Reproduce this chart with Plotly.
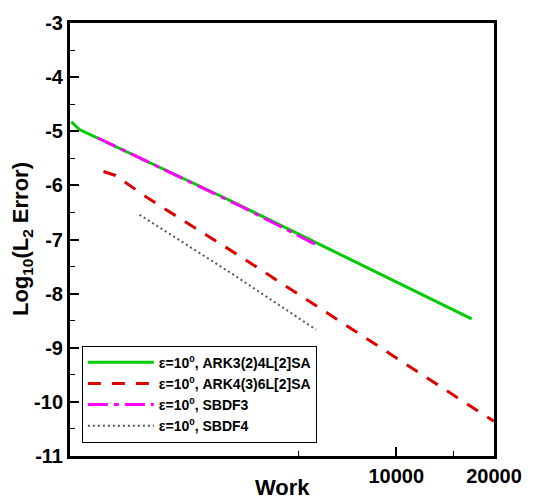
import plotly.graph_objects as go

# ---- data ----
work_ark3 = [997, 1056, 3007, 10550, 17070]
err_ark3 = [-4.824, -4.969, -6.252, -7.842, -8.466]

work_ark4 = [1252, 1365, 1721, 3299, 7801, 20000]
err_ark4 = [-5.744, -5.817, -6.240, -7.310, -8.768, -10.36]

work_sbdf3 = [1200, 3292, 5700]
err_sbdf3 = [-5.120, -6.376, -7.105]

work_sbdf4 = [1617, 3077, 5659]
err_sbdf4 = [-6.543, -7.610, -8.666]

names = [
    "ε=10<sup>0</sup>, ARK3(2)4L[2]SA",
    "ε=10<sup>0</sup>, ARK4(3)6L[2]SA",
    "ε=10<sup>0</sup>, SBDF3",
    "ε=10<sup>0</sup>, SBDF4",
]

x_tickvals = [10000, 20000]
x_ticktext = ["10000", "20000"]
x_minor = [5000, 15000]
y_tickvals = [-3, -4, -5, -6, -7, -8, -9, -10, -11]
y_ticktext = ["-3", "-4", "-5", "-6", "-7", "-8", "-9", "-10", "-11"]

FONT = "Liberation Sans, Arial, sans-serif"
XRANGE = [2.9945, 4.30103]

fig = go.Figure()
fig.add_trace(go.Scatter(x=work_ark3, y=err_ark3, mode="lines", name=names[0],
                         line=dict(color="#00CC00", width=3)))
fig.add_trace(go.Scatter(x=work_ark4, y=err_ark4, mode="lines", name=names[1],
                         line=dict(color="#DD0000", width=3, dash="13px,11px")))
fig.add_trace(go.Scatter(x=work_sbdf3, y=err_sbdf3, mode="lines", name=names[2],
                         line=dict(color="#FF00FF", width=3, dash="20px,6px,5px,6px")))
fig.add_trace(go.Scatter(x=work_sbdf4, y=err_sbdf4, mode="lines", name=names[3],
                         line=dict(color="#555555", width=2, dash="2px,3px")))

# minor x ticks drawn at their data positions through the x scale
for xv in x_minor:
    fig.add_shape(type="line", xref="x", yref="paper", x0=xv, x1=xv, y0=0, y1=0.012,
                  line=dict(color="black", width=1))

fig.update_layout(
    width=534, height=499,
    margin=dict(l=70, r=32, t=16, b=41),
    paper_bgcolor="white", plot_bgcolor="white",
    font=dict(family=FONT, color="black"),
    showlegend=True,
    legend=dict(
        x=0.028, y=0.255, xanchor="left", yanchor="top",
        bgcolor="white", bordercolor="black", borderwidth=1,
        font=dict(family=FONT, size=14, color="black", weight="bold"),
        tracegroupgap=0, itemwidth=66,
    ),
    xaxis=dict(
        type="log",
        range=XRANGE,
        showgrid=False, zeroline=False,
        showline=True, linecolor="black", linewidth=3, mirror=True,
        ticks="inside", ticklen=9, tickwidth=2, tickcolor="black",
        tickmode="array", tickvals=x_tickvals, ticktext=x_ticktext,
        tickfont=dict(family=FONT, size=20, color="black", weight="bold"),
    ),
    yaxis=dict(
        range=[-11, -3],
        showgrid=False, zeroline=False,
        showline=True, linecolor="black", linewidth=3, mirror=True,
        ticks="inside", ticklen=9, tickwidth=2, tickcolor="black",
        tickmode="array", tickvals=y_tickvals, ticktext=y_ticktext,
        tickfont=dict(family=FONT, size=20, color="black", weight="bold"),
        minor=dict(tickmode="linear", tick0=-11, dtick=0.5, ticks="inside",
                   ticklen=5, tickwidth=1, tickcolor="black", showgrid=False),
    ),
    annotations=[
        dict(text="Work", xref="paper", yref="paper", x=0.5, y=-0.0725,
             xanchor="center", yanchor="middle", showarrow=False,
             font=dict(family=FONT, size=22, color="black", weight="bold")),
        dict(text="Log<sub>10</sub>(L<sub>2</sub> Error)", xref="paper", yref="paper",
             x=-0.1143, y=0.5, xanchor="center", yanchor="middle", textangle=-90,
             showarrow=False,
             font=dict(family=FONT, size=22, color="black", weight="bold")),
    ],
)

fig.write_html("out.html", config={"displayModeBar": False},
               post_script="document.body.style.margin='0';")
